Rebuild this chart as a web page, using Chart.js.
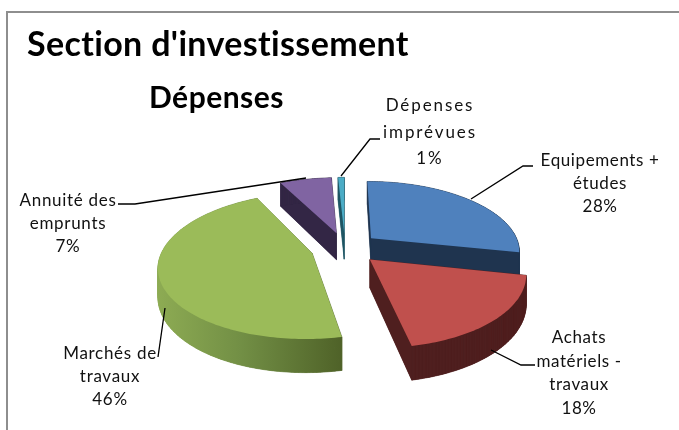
<!DOCTYPE html>
<html>
<head>
<meta charset="utf-8">
<style>
  html, body { margin: 0; padding: 0; background: #fff; }
  #wrap { position: absolute; left: 0; top: 0; width: 679px; height: 430px; }
  #frame { position: absolute; left: 6px; top: 11px; right: 0; bottom: 0; border-left: 2px solid #8e8e8e; border-top: 2px solid #8e8e8e; }
</style>
</head>
<body>
<div id="wrap">
  <div id="frame"></div>
  <canvas id="chart" width="679" height="430"></canvas>
</div>
<script src="https://cdn.jsdelivr.net/npm/chart.js@4"></script>
<script>
const chartTitle = "Section d'investissement";
const chartSubtitle = 'Dépenses';
const categories = ['Equipements + études', 'Achats matériels - travaux', 'Marchés de travaux', 'Annuité des emprunts', 'Dépenses imprévues'];
const values = [28.3, 18.5, 45.7, 6.7, 0.8];
const percentLabels = ['28%', '18%', '46%', '7%', '1%'];

const topColors = ['#4f81bd', '#c0504d', '#9bbb59', '#8064a2', '#4bacc6'];
const sideColors = ['#1f344f', '#4f1f1f', '#56702c', '#332645', '#1e5664'];

// label layout: wrapped lines, centre x, first line y, line step, letter spacing, leader polyline
const labelLayout = [
  { lines: ['Equipements +', 'études', percentLabels[0]], x: 600, y: 161, step: 23, spacing: 0.6, leader: [[471, 199], [523, 166], [533, 166]] },
  { lines: ['Achats', 'matériels -', 'travaux', percentLabels[1]], x: 579, y: 338, step: 23.4, spacing: 0.6, leader: [[491, 350], [521, 365], [535, 365]] },
  { lines: ['Marchés de', 'travaux', percentLabels[2]], x: 110, y: 354, step: 23, spacing: 0.7, leader: [[165, 308], [158, 357]] },
  { lines: ['Annuité des', 'emprunts', percentLabels[3]], x: 68, y: 201, step: 23, spacing: 0.7, leader: [[306, 178], [135, 204], [118, 204]] },
  { lines: ['Dépenses', 'imprévues', percentLabels[4]], x: 430, y: 106, step: 26.5, spacing: 1.9, leader: [[341, 176], [370, 139], [380, 139]] }
];

// 3d look of the pie, all relative to the radius chart.js gives us
const tilt = 0.465, perspective = 0.168, explode = 0.23, depth = 0.185;

function project(arc, u, v, drop) {
  const k = 1 - perspective * v;
  return {
    x: arc.x + arc.outerRadius * u / k,
    y: arc.y + arc.outerRadius * (tilt * v + (drop ? depth : 0)) / k
  };
}

function sliceOutline(arc, drop) {
  const a0 = arc.startAngle + Math.PI / 2, a1 = arc.endAngle + Math.PI / 2;
  const mid = (a0 + a1) / 2;
  const ox = Math.sin(mid) * explode, oy = -Math.cos(mid) * explode;
  const pts = [project(arc, ox, oy, drop)];
  const n = Math.max(4, Math.ceil((a1 - a0) / 0.02));
  for (let i = 0; i <= n; i++) {
    const a = a0 + (a1 - a0) * i / n;
    pts.push(project(arc, ox + Math.sin(a), oy - Math.cos(a), drop));
  }
  return pts;
}

function fillPoly(ctx, pts, color) {
  ctx.beginPath();
  pts.forEach((p, i) => i ? ctx.lineTo(p.x, p.y) : ctx.moveTo(p.x, p.y));
  ctx.closePath();
  ctx.fillStyle = color;
  ctx.fill();
}

function drawSlice(ctx, arc, i) {
  const top = sliceOutline(arc, false), bottom = sliceOutline(arc, true);
  let side = sideColors[i];
  if (i === 2) {
    // only the green wall has a visible shading across it
    const xs = top.map(p => p.x);
    side = ctx.createLinearGradient(Math.min(...xs), 0, Math.max(...xs), 0);
    side.addColorStop(0, '#8dab53');
    side.addColorStop(0.45, '#728f45');
    side.addColorStop(1, '#4f6228');
  }
  fillPoly(ctx, bottom, side);
  ctx.strokeStyle = side;
  ctx.lineWidth = 0.6;
  top.forEach((p, k) => {
    const next = (k + 1) % top.length;
    fillPoly(ctx, [p, top[next], bottom[next], bottom[k]], side);
    ctx.stroke();
  });
  fillPoly(ctx, top, topColors[i]);
}

const pie3d = {
  id: 'pie3d',
  beforeDatasetDraw(chart) {
    const ctx = chart.ctx, arcs = chart.getDatasetMeta(0).data;
    ctx.save();
    // back slices first, the red one sits over the blue wall
    [4, 3, 0, 2, 1].forEach(i => drawSlice(ctx, arcs[i], i));
    ctx.restore();
    return false;
  },
  afterDraw(chart) {
    const ctx = chart.ctx;
    ctx.save();
    ctx.fillStyle = '#000';
    ctx.textBaseline = 'alphabetic';
    ctx.textAlign = 'left';
    ctx.font = 'bold 34px Lato, Carlito, sans-serif';
    ctx.letterSpacing = '0.35px';
    ctx.fillText(chartTitle, 27, 56);
    ctx.font = 'bold 30px Lato, Carlito, sans-serif';
    ctx.letterSpacing = '0.5px';
    ctx.fillText(chartSubtitle, 149, 108);

    ctx.strokeStyle = '#000';
    ctx.lineWidth = 1.3;
    labelLayout.forEach(l => {
      ctx.beginPath();
      l.leader.forEach((p, k) => k ? ctx.lineTo(p[0], p[1]) : ctx.moveTo(p[0], p[1]));
      ctx.stroke();
    });
    ctx.font = '17px Lato, Carlito, sans-serif';
    ctx.fillStyle = '#111';
    ctx.textAlign = 'center';
    ctx.textBaseline = 'middle';
    labelLayout.forEach(l => {
      ctx.letterSpacing = l.spacing + 'px';
      l.lines.forEach((t, k) => ctx.fillText(t, l.x, l.y + k * l.step));
    });
    ctx.restore();
  }
};

new Chart(document.getElementById('chart'), {
  type: 'pie',
  data: {
    labels: categories,
    datasets: [{ data: values, backgroundColor: topColors, borderWidth: 0 }]
  },
  options: {
    responsive: false,
    animation: false,
    layout: { padding: { left: 196, right: 185, top: 99, bottom: 33 } },
    plugins: { legend: { display: false }, tooltip: { enabled: false } }
  },
  plugins: [pie3d]
});
</script>
</body>
</html>
